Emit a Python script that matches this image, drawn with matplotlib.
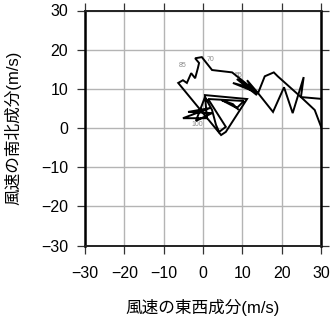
import numpy as np
import matplotlib
matplotlib.use("Agg")
import matplotlib.pyplot as plt

plt.rcParams['font.family'] = ['Liberation Sans', 'Noto Sans CJK JP', 'DejaVu Sans']

# Hodograph: east-west (u) and north-south (v) wind components, m/s
# main trace
u_main = [30.7, 28.4, 24.9, 19.0, 18.0, 15.7, 14.0, 7.6, 12.4, 8.6, 13.7, 11.2, 14.0,
          8.9, 7.4, 2.3, -0.3, -2.0, -1.0, -1.3, -2.0, -3.0, -4.1, -5.1, -6.3,
          4.6, 5.8, 11.2, 0.5, 1.0, -5.1, 1.8, -3.8, 2.3, -1.8, 0.5, 2.3, 3.3, 4.1,
          5.8, 1.3, 10.4, 8.6, 4.8, 7.6, 8.9]
v_main = [-1.5, 4.6, 7.9, 13.2, 14.2, 13.2, 8.9, 11.5, 10.2, 12.5, 8.4, 12.2, 8.9,
          13.0, 14.2, 14.8, 18.1, 17.8, 16.6, 15.3, 12.7, 14.0, 11.5, 12.2, 11.5,
          -1.8, -1.0, 7.4, 8.4, 2.5, 2.5, 5.1, 4.1, 3.8, 1.8, 7.9, 4.6, 0.8, -1.0,
          0.3, 7.4, 6.9, 5.1, 7.1, 6.1, 4.8]
# second trace segment
u_seg = [30.5, 24.9, 25.6, 22.8, 20.6, 17.8, 14.0]
v_seg = [7.4, 7.9, 13.0, 3.8, 10.4, 4.1, 8.9]

# height labels
lab_text = ["55", "70", "85", "100"]
lab_u = [9.0, 1.8, -5.3, -1.5]
lab_v = [13.3, 17.6, 16.0, 1.0]

ticks = [-30, -20, -10, 0, 10, 20, 30]

fig = plt.figure(figsize=(3.31, 3.18), dpi=100)
ax = fig.add_axes([85/331, (318-245.5)/318, 236/331, 235/318])
ax.set_xlim(-30, 30)
ax.set_ylim(-30, 30)
ax.set_xticks(ticks)
ax.set_yticks(ticks)
ax.set_xticklabels([str(t).replace('-', '\u2212') for t in ticks])
ax.set_yticklabels([str(t).replace('-', '\u2212') for t in ticks])
ax.grid(True, color='#b4b4b4', lw=1.0, zorder=0)
ax.set_axisbelow(True)

ax.plot(u_main, v_main, color='black', lw=1.4, zorder=3, solid_joinstyle='miter')
ax.plot(u_seg, v_seg, color='black', lw=1.4, zorder=3, solid_joinstyle='miter')
for t, x, y in zip(lab_text, lab_u, lab_v):
    ax.text(x, y, t, fontsize=5, color='#8c8c8c', ha='center', va='center', zorder=2)

ax.tick_params(direction='out', length=6, width=0.9, color='#333333',
               top=True, right=True, labelsize=11.5, labelcolor='black')
ax.tick_params(axis='x', pad=9)
ax.tick_params(axis='y', pad=6)
for s in ['left', 'right']:
    ax.spines[s].set_linewidth(1.8)
    ax.spines[s].set_color('black')
for s in ['top', 'bottom']:
    ax.spines[s].set_linewidth(1.4)
    ax.spines[s].set_color('#222222')

ax.set_xlabel('風速の東西成分(m/s)', fontsize=12, labelpad=13)
ax.set_ylabel('風速の南北成分(m/s)', fontsize=12, labelpad=14)

fig.savefig('out.png', dpi=100)
